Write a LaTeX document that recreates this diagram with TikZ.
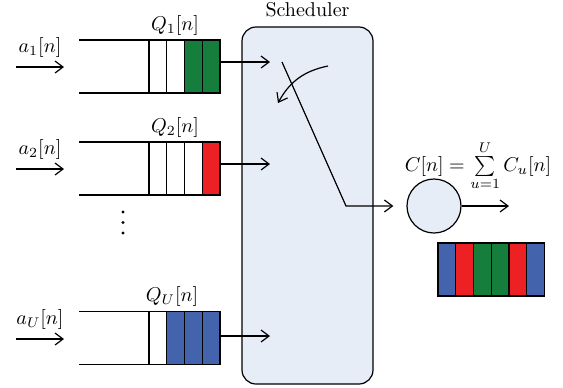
\documentclass[tikz,border=0pt]{standalone}
\usepackage{amsmath}
\usepackage{amssymb}
\usepackage{xcolor}
\usepackage{tikz}
\usetikzlibrary{positioning,arrows.meta}

\definecolor{qgreen}{RGB}{21,126,61}
\definecolor{qred}{RGB}{237,32,36}
\definecolor{qblue}{RGB}{67,99,172}
\definecolor{schedfill}{RGB}{230,237,246}

\begin{document}
\begin{tikzpicture}[
		x=0.5pt, y=-0.5pt,
		line width=0.6pt,
		cell/.style={draw,minimum width=8.875pt,minimum height=26.5pt,inner sep=0pt,outer sep=0pt},
		arr/.style={-{Straight Barb[length=4pt,width=6pt]}},
		sched/.style={draw,rounded corners=7pt,fill=schedfill,minimum width=65.5pt,minimum height=178.5pt},
		server/.style={circle,draw,fill=schedfill,minimum size=27pt,inner sep=0pt}
		]
		\useasboundingbox (0,0) rectangle (563,387);
		
		% scheduler and server
		\node[sched, label={[yshift=1pt]above:Scheduler}] (sched) at (307.5,205.5) {};
		\node[server] (srv) at (434,206) {};
		\node (cap) at (478,166) {$C[n] = \sum\limits_{u=1}^{U} C_u[n]$};
		
		% queue 1
		\node[cell] (q1a) at (157.9,66.5) {};
		\node[cell, right=0pt of q1a] (q1b) {};
		\node[cell, right=0pt of q1b, fill=qgreen] (q1c) {};
		\node[cell, right=0pt of q1c, fill=qgreen] (q1d) {};
		\node (q1lab) at (175,25) {$Q_1[n]$};
		
		% queue 2
		\node[cell] (q2a) at (157.9,168.5) {};
		\node[cell, right=0pt of q2a] (q2b) {};
		\node[cell, right=0pt of q2b] (q2c) {};
		\node[cell, right=0pt of q2c, fill=qred] (q2d) {};
		\node (q2lab) at (175,127) {$Q_2[n]$};
		
		% queue U
		\node[cell] (qUa) at (157.9,338) {};
		\node[cell, right=0pt of qUa, fill=qblue] (qUb) {};
		\node[cell, right=0pt of qUb, fill=qblue] (qUc) {};
		\node[cell, right=0pt of qUc, fill=qblue] (qUd) {};
		\node (qUlab) at (172,296) {$Q_U[n]$};
		
		\coordinate (q1in) at (79,66.5);
		\coordinate (q2in) at (79,168.5);
		\coordinate (qUin) at (79,338);
		\draw (q1in |- q1a.north) -- (q1d.north east);
		\draw (q1in |- q1a.south) -- (q1d.south east);
		\draw (q2in |- q2a.north) -- (q2d.north east);
		\draw (q2in |- q2a.south) -- (q2d.south east);
		\draw (qUin |- qUa.north) -- (qUd.north east);
		\draw (qUin |- qUa.south) -- (qUd.south east);
		
		\foreach \y in {212,222.5,233}
		\fill (123,\y) circle (0.8pt);
		
		% arrivals
		\coordinate (a1s) at (16,67);
		\coordinate (a1e) at (64,67);
		\coordinate (a2s) at (16,169);
		\coordinate (a2e) at (64,169);
		\coordinate (aUs) at (16,339);
		\coordinate (aUe) at (64,339);
		\draw[arr] (a1s) -- node[above=1pt] {$a_1[n]$} (a1e);
		\draw[arr] (a2s) -- node[above=1pt] {$a_2[n]$} (a2e);
		\draw[arr] (aUs) -- node[above=1pt] {$a_U[n]$} (aUe);
		
		% into the scheduler
		\coordinate (s1) at (270,62);
		\coordinate (s2) at (270,164);
		\coordinate (sU) at (270,336);
		\draw[arr] (q1d.east |- s1) -- (s1);
		\draw[arr] (q2d.east |- s2) -- (s2);
		\draw[arr] (qUd.east |- sU) -- (sU);
		
		% switch
		\coordinate (sw1) at (282,62);
		\coordinate (sw2) at (346,206);
		\draw[arr, shorten >=6.5pt] (sw1) -- (sw2) -- (srv.west);
		\coordinate (rot1) at (328,66);
		\coordinate (rot2) at (278,103);
		\draw[arr] (rot1) to[bend right=25] (rot2);
		
		\coordinate (out) at (509,206);
		\draw[arr] (srv) -- (out);
		
		% served frame
		\node[cell, fill=qblue] (f1) at (446.9,269.5) {};
		\node[cell, right=0pt of f1, fill=qred] (f2) {};
		\node[cell, right=0pt of f2, fill=qgreen] (f3) {};
		\node[cell, right=0pt of f3, fill=qgreen] (f4) {};
		\node[cell, right=0pt of f4, fill=qred] (f5) {};
		\node[cell, right=0pt of f5, fill=qblue] (f6) {};
	\end{tikzpicture}
\end{document}
